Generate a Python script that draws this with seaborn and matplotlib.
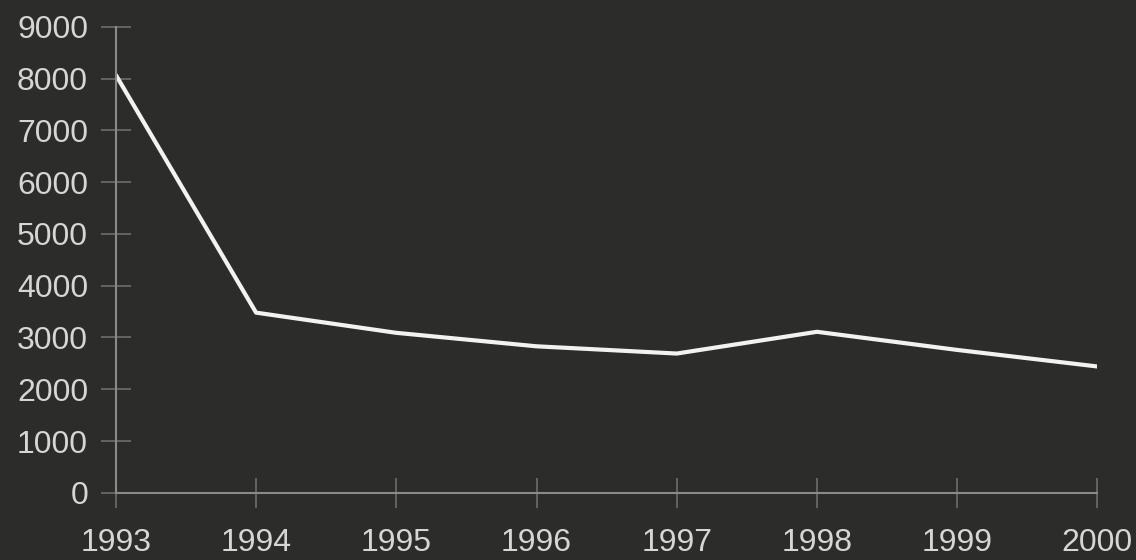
import pandas as pd
import matplotlib
matplotlib.use("Agg")
import matplotlib.pyplot as plt
import seaborn as sns

# values
years = [1993, 1994, 1995, 1996, 1997, 1998, 1999, 2000]
values = [8070, 3480, 3090, 2830, 2690, 3110, 2760, 2440]
yticks = list(range(0, 10000, 1000))

df = pd.DataFrame({"year": years, "value": values})

sns.set_style("dark")
plt.rcParams["font.family"] = ["Liberation Sans", "DejaVu Sans"]

bg = "#2c2c2b"
axis_col = "#8a8a87"
tick_col = "#6e6e6b"
text_col = "#d6d6d3"

fig = plt.figure(figsize=(11.36, 5.6), dpi=100, facecolor=bg)
ax = fig.add_axes([0.102, 0.12, 0.864, 0.832])
ax.set_facecolor(bg)

sns.lineplot(data=df, x="year", y="value", color="#f2f2ee", linewidth=3, ax=ax)

ax.set_xlim(1993, 2000)
ax.set_ylim(0, 9000)
ax.set_xticks(years)
ax.set_yticks(yticks)
ax.set_xlabel("")
ax.set_ylabel("")

for side in ["top", "right"]:
    ax.spines[side].set_visible(False)
for side in ["left", "bottom"]:
    ax.spines[side].set_visible(True)
    ax.spines[side].set_color(axis_col)
    ax.spines[side].set_linewidth(1.5)

ax.tick_params(axis="y", left=True, direction="inout", length=22, width=1.2, color=tick_col,
               labelcolor=text_col, labelsize=23, pad=9)
ax.tick_params(axis="x", bottom=True, direction="inout", length=22, width=1.2, color=tick_col,
               labelcolor=text_col, labelsize=23, pad=14)
ax.grid(False)

plt.savefig("out.png", dpi=100, facecolor=bg)
